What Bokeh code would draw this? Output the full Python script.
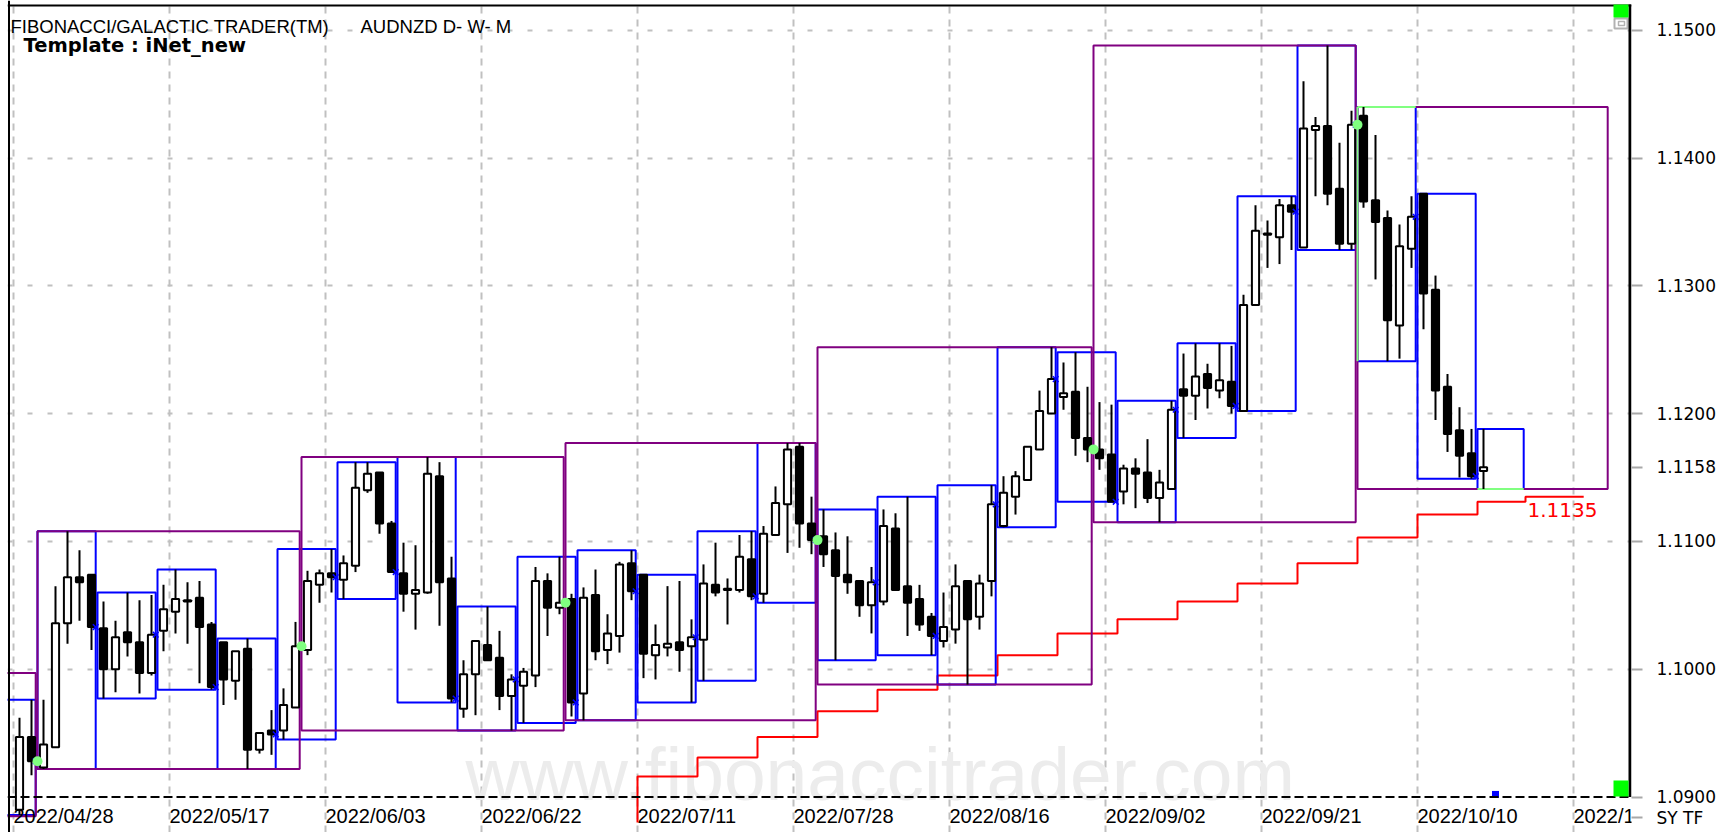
import numpy as np
import pandas as pd
from bokeh.plotting import figure
from bokeh.models import (ColumnDataSource, FixedTicker, Range1d, Label, Span,
                          BoxAnnotation, PrintfTickFormatter)
from bokeh.core.properties import value
from bokeh.embed import file_html
from bokeh.resources import INLINE

# ------------------------------------------------------------------ data
first_date = "2022-04-28"

opens = [1.0890, 1.0947, 1.0923, 1.0939, 1.1036, 1.1072, 1.1074, 1.1032, 1.1000, 1.1029,
         1.1021, 1.0997, 1.1030, 1.1045, 1.1053, 1.1056, 1.1035, 1.1021, 1.0991, 1.1016,
         1.0937, 1.0952, 1.0952, 1.0970, 1.1015, 1.1066, 1.1075, 1.1070, 1.1081, 1.1140,
         1.1154, 1.1114, 1.1075, 1.1059, 1.1060, 1.1151, 1.1071, 1.0969, 1.0996, 1.1019,
         1.1009, 1.0979, 1.0987, 1.0995, 1.1069, 1.1048, 1.1055, 1.0981, 1.1058, 1.1015,
         1.1026, 1.1083, 1.1074, 1.1011, 1.1017, 1.1021, 1.1018, 1.1023, 1.1066, 1.1062,
         1.1062, 1.1086, 1.1059, 1.1105, 1.1129, 1.1174, 1.1114, 1.1104, 1.1093, 1.1074,
         1.1069, 1.1050, 1.1053, 1.1110, 1.1065, 1.1055, 1.1041, 1.1022, 1.1031, 1.1069,
         1.1041, 1.1069, 1.1112, 1.1135, 1.1148, 1.1172, 1.1200, 1.1213, 1.1217, 1.1181,
         1.1172, 1.1168, 1.1139, 1.1157, 1.1154, 1.1134, 1.1141, 1.1219, 1.1214, 1.1231,
         1.1218, 1.1225, 1.1202, 1.1285, 1.1340, 1.1338, 1.1363, 1.1330, 1.1422, 1.1425,
         1.1376, 1.1333, 1.1433, 1.1367, 1.1353, 1.1269, 1.1329, 1.1372, 1.1297, 1.1221,
         1.1187, 1.1169, 1.1155]

highs = [1.0962, 1.0976, 1.0976, 1.1065, 1.1108, 1.1093, 1.1074, 1.1053, 1.1038, 1.1060,
         1.1054, 1.1058, 1.1066, 1.1078, 1.1068, 1.1069, 1.1037, 1.1021, 1.1014, 1.1024,
         1.0950, 1.0968, 1.0985, 1.1037, 1.1077, 1.1078, 1.1094, 1.1089, 1.1162, 1.1162,
         1.1154, 1.1116, 1.1099, 1.1097, 1.1166, 1.1162, 1.1088, 1.1007, 1.1022, 1.1049,
         1.1030, 1.0996, 1.1001, 1.1080, 1.1075, 1.1088, 1.1059, 1.1064, 1.1078, 1.1043,
         1.1084, 1.1093, 1.1074, 1.1035, 1.1065, 1.1069, 1.1039, 1.1082, 1.1099, 1.1071,
         1.1105, 1.1108, 1.1112, 1.1143, 1.1177, 1.1177, 1.1135, 1.1125, 1.1107, 1.1104,
         1.1069, 1.1080, 1.1125, 1.1122, 1.1135, 1.1066, 1.1044, 1.1060, 1.1082, 1.1069,
         1.1074, 1.1144, 1.1151, 1.1155, 1.1174, 1.1218, 1.1252, 1.1240, 1.1248, 1.1221,
         1.1209, 1.1207, 1.1160, 1.1165, 1.1180, 1.1156, 1.1210, 1.1247, 1.1255, 1.1239,
         1.1255, 1.1253, 1.1293, 1.1363, 1.1351, 1.1368, 1.1370, 1.1460, 1.1432, 1.1488,
         1.1412, 1.1437, 1.1440, 1.1418, 1.1359, 1.1348, 1.1370, 1.1372, 1.1308, 1.1231,
         1.1205, 1.1188, 1.1188]

lows = [1.0886, 1.0917, 1.0922, 1.0939, 1.1020, 1.1038, 1.1015, 1.0977, 1.0982, 1.1010,
        1.0981, 1.0995, 1.1014, 1.1028, 1.1020, 1.0989, 1.0984, 1.0972, 1.0976, 1.0922,
        1.0934, 1.0933, 1.0945, 1.0970, 1.1011, 1.1052, 1.1060, 1.1055, 1.1076, 1.1138,
        1.1106, 1.1076, 1.1045, 1.1031, 1.1059, 1.1034, 1.0974, 1.0962, 1.0964, 1.1007,
        1.0968, 1.0952, 1.0958, 1.0986, 1.1026, 1.1043, 1.0963, 1.0960, 1.1007, 1.1004,
        1.1013, 1.1054, 1.0993, 1.0992, 1.1010, 1.0998, 1.0974, 1.0991, 1.1057, 1.1035,
        1.1060, 1.1054, 1.1052, 1.1105, 1.1091, 1.1095, 1.1090, 1.1080, 1.1007, 1.1059,
        1.1041, 1.1028, 1.1050, 1.1062, 1.1026, 1.1030, 1.1011, 1.1017, 1.1020, 1.0988,
        1.1031, 1.1057, 1.1111, 1.1121, 1.1148, 1.1172, 1.1200, 1.1203, 1.1167, 1.1162,
        1.1156, 1.1131, 1.1129, 1.1126, 1.1130, 1.1115, 1.1141, 1.1181, 1.1195, 1.1204,
        1.1212, 1.1200, 1.1202, 1.1285, 1.1314, 1.1317, 1.1328, 1.1330, 1.1370, 1.1363,
        1.1328, 1.1328, 1.1361, 1.1305, 1.1241, 1.1243, 1.1314, 1.1266, 1.1195, 1.1170,
        1.1150, 1.1149, 1.1141]

closes = [1.0947, 1.0928, 1.0941, 1.1036, 1.1072, 1.1068, 1.1033, 1.1000, 1.1025, 1.1021,
          1.0997, 1.1027, 1.1047, 1.1055, 1.1054, 1.1033, 1.0986, 1.0992, 1.1014, 1.0937,
          1.0950, 1.0949, 1.0972, 1.1018, 1.1069, 1.1075, 1.1072, 1.1083, 1.1142, 1.1153,
          1.1114, 1.1076, 1.1059, 1.1062, 1.1153, 1.1068, 1.0977, 1.0996, 1.1022, 1.1007,
          1.0979, 1.0992, 1.0998, 1.1069, 1.1048, 1.1052, 1.0974, 1.1056, 1.1014, 1.1028,
          1.1082, 1.1061, 1.1012, 1.1019, 1.1020, 1.1015, 1.1025, 1.1067, 1.1060, 1.1063,
          1.1088, 1.1057, 1.1106, 1.1130, 1.1172, 1.1114, 1.1101, 1.1090, 1.1073, 1.1068,
          1.1050, 1.1068, 1.1112, 1.1062, 1.1052, 1.1035, 1.1026, 1.1033, 1.1065, 1.1039,
          1.1067, 1.1129, 1.1138, 1.1151, 1.1174, 1.1202, 1.1227, 1.1216, 1.1181, 1.1172,
          1.1165, 1.1131, 1.1157, 1.1153, 1.1134, 1.1146, 1.1203, 1.1214, 1.1229, 1.1220,
          1.1226, 1.1206, 1.1285, 1.1343, 1.1341, 1.1363, 1.1358, 1.1423, 1.1425, 1.1372,
          1.1333, 1.1426, 1.1366, 1.1350, 1.1273, 1.1331, 1.1354, 1.1294, 1.1218, 1.1184,
          1.1167, 1.1151, 1.1158]

# April range made of bars that lie before the visible window
april_high_before_window = 1.0997
april_low_before_window = 1.0885

# projected last bar of the running (current) week
current_week_last_bar = 125

# red weekly step line: bar where each step starts, and its value
red_step_bars = [52, 57, 62, 67, 72, 77, 82, 87, 92, 97, 102, 107, 112, 117, 122, 126]
red_values = [1.0916, 1.0931, 1.0947, 1.0967, 1.0984, 1.0995, 1.1011, 1.1028,
              1.1039, 1.1053, 1.1067, 1.1083, 1.1103, 1.1121, 1.1131, 1.1135]
red_value_before = 1.0880
red_last_bar = 130

x_tick_bars = [0, 13, 26, 39, 52, 65, 78, 91, 104, 117, 130]
x_tick_labels = ["2022/04/28", "2022/05/17", "2022/06/03", "2022/06/22", "2022/07/11",
                 "2022/07/28", "2022/08/16", "2022/09/02", "2022/09/21", "2022/10/10",
                 "2022/10/27"]
y_ticks = [1.09, 1.10, 1.11, 1.12, 1.13, 1.14, 1.15]
button_labels = "SY TF"

# ------------------------------------------------------------------ layout (page px)
W, H = 1724, 832
FRAME_L, FRAME_R = 7, 1631
PX_PER_BAR = 12.0
PX_PER_UNIT = 12780.0
x_start = -12.0 / PX_PER_BAR              # bar 0 sits 12 px right of the frame edge
x_end = x_start + (FRAME_R - FRAME_L) / PX_PER_BAR
y_end = 1.09 + 796.5 / PX_PER_UNIT        # 1.0900 line at page y 796.5
y_start = y_end - H / PX_PER_UNIT


def sx(page_x):
    return x_start + (page_x - FRAME_L) / PX_PER_BAR


def sy(page_y):
    return y_end - page_y / PX_PER_UNIT


# ------------------------------------------------------------------ derived tables
n = len(opens)
dates = pd.bdate_range(first_date, periods=n)
df = pd.DataFrame(dict(i=np.arange(n), o=opens, h=highs, l=lows, c=closes), index=dates)
df["wk"] = dates - pd.to_timedelta(dates.weekday, unit="D")
df["mo"] = dates.to_period("M")

wk = df.groupby("wk").agg(first=("i", "min"), last=("i", "max"),
                          top=("h", "max"), bottom=("l", "min"), close=("c", "last"))
wk["left"] = [int(f) - dates[int(f)].weekday() - 0.5 for f in wk["first"]]
wk["right"] = [int(la) + (4 - dates[int(la)].weekday()) + 0.35 for la in wk["last"]]
wk.loc[wk.index[-1], "right"] = current_week_last_bar + 0.35

mo = df.groupby("mo").agg(first=("i", "min"), last=("i", "max"),
                          top=("h", "max"), bottom=("l", "min"))
lefts, rights = [], []
for per, f, la in zip(mo.index, mo["first"], mo["last"]):
    f, la = int(f), int(la)
    ms = np.datetime64(per.start_time.date())
    me1 = np.datetime64(per.end_time.date()) + np.timedelta64(1, "D")
    fd = np.datetime64(dates[f].date())
    ld1 = np.datetime64(dates[la].date()) + np.timedelta64(1, "D")
    lefts.append(f - int(np.busday_count(ms, fd)) - 0.5)
    rights.append(la + int(np.busday_count(ld1, me1)) + 0.35)
mo["left"] = lefts
mo["right"] = rights
mo.loc[mo.index[0], "top"] = max(mo["top"].iloc[0], april_high_before_window)
mo.loc[mo.index[0], "bottom"] = min(mo["bottom"].iloc[0], april_low_before_window)

# ------------------------------------------------------------------ figure
p = figure(width=W, height=H, output_backend="svg", toolbar_location=None,
           x_range=Range1d(x_start, x_end), y_range=Range1d(y_start, y_end),
           x_axis_location=None, y_axis_location="right",
           min_border_left=FRAME_L, min_border_right=W - FRAME_R,
           min_border_top=0, min_border_bottom=0)
p.background_fill_color = "white"
p.border_fill_color = "white"
p.outline_line_color = None

# right price axis (plus the last-price label and the SY/TF buttons row)
last_price = closes[-1]
button_level = sy(817)
ya = p.yaxis[0]
ya.ticker = FixedTicker(ticks=y_ticks + [last_price, button_level])
ya.formatter = PrintfTickFormatter(format="%.4f")
ya.major_label_overrides = {last_price: f"{last_price:.4f}", button_level: button_labels}
ya.axis_line_color = None
ya.major_tick_line_color = "#A8A8A8"
ya.major_tick_line_width = 2
ya.major_tick_out = 11
ya.major_tick_in = 0
ya.minor_tick_line_color = None
ya.major_label_standoff = 14
ya.major_label_text_font = "DejaVu Sans"
ya.major_label_text_font_size = "17px"
ya.major_label_text_color = "black"

grid_x = [b - 0.5 for b in x_tick_bars]
p.xgrid.ticker = FixedTicker(ticks=grid_x)
p.xgrid.grid_line_color = "#C0C0C0"
p.xgrid.grid_line_width = 2
p.xgrid.grid_line_dash = "7 6"
p.ygrid.ticker = FixedTicker(ticks=y_ticks[1:])
p.ygrid.grid_line_color = "#C0C0C0"
p.ygrid.grid_line_width = 2
p.ygrid.grid_line_dash = "5 15"

# watermark
p.add_layout(Label(x=sx(465), y=sy(773), text="www.fibonaccitrader.com",
                   text_font="Liberation Sans", text_font_size="75px",
                   text_color="#ECECEC", text_baseline="alphabetic", level="underlay"))

# red weekly step line
red_x = [red_step_bars[0] - 0.5] + [b - 0.5 for b in red_step_bars] + [red_last_bar + 0.35]
red_y = [red_value_before] + red_values + [red_values[-1]]
p.step(red_x, red_y, mode="after", line_color="#FF0000", line_width=2)

# weekly boxes
p.quad(left="left", right="right", top="top", bottom="bottom",
       source=ColumnDataSource(wk.reset_index(drop=True)),
       fill_color=None, line_color="#0000FF", line_width=2)
# monthly boxes
p.quad(left="left", right="right", top="top", bottom="bottom",
       source=ColumnDataSource(mo.reset_index(drop=True)),
       fill_color=None, line_color="#800080", line_width=2)

# current month: weekly edges touching the monthly range drawn in light green
cur = mo.iloc[-1]
cur_weeks = wk[wk["first"] >= cur["first"]]
gx0, gy0, gx1, gy1 = [], [], [], []
for _, w in cur_weeks.iterrows():
    if w["top"] == cur["top"]:
        gx0.append(w["left"]); gy0.append(w["top"]); gx1.append(w["right"]); gy1.append(w["top"])
    if w["bottom"] == cur["bottom"]:
        gx0.append(w["left"]); gy0.append(w["bottom"]); gx1.append(w["right"]); gy1.append(w["bottom"])
    if w["left"] == cur["left"]:
        gx0.append(w["left"]); gy0.append(w["bottom"]); gx1.append(w["left"]); gy1.append(w["top"])
p.segment(gx0, gy0, gx1, gy1, line_color="#80FF80", line_width=2)

# candles
cs = ColumnDataSource(dict(
    x=df["i"].to_numpy(), h=df["h"].to_numpy(), l=df["l"].to_numpy(),
    top=np.maximum(df["o"], df["c"]).to_numpy(), bottom=np.minimum(df["o"], df["c"]).to_numpy(),
    fill=np.where(df["c"] >= df["o"], "white", "black")))
p.segment(x0="x", y0="h", x1="x", y1="l", source=cs, line_color="black", line_width=2)
p.vbar(x="x", width=0.6, top="top", bottom="bottom", source=cs,
       fill_color="fill", line_color="black", line_width=2)

# end-of-week markers (last close of each finished week)
done = wk.iloc[:-1]
p.scatter((done["last"] + 0.35).to_numpy(), done["close"].to_numpy(), marker="x", size=8,
          line_color="#0000FF", line_width=1.5)

# start-of-month dots (previous month's last close)
m_first = [int(f) for f in mo["first"] if f > 0]
p.scatter([f - 0.5 for f in m_first], [closes[f - 1] for f in m_first],
          marker="circle", size=10, fill_color="#80FF80", line_color=None)

# next bar marker
p.scatter([n], [1.0902], marker="square", size=7, fill_color="#0000FF", line_color=None)

# frame borders
p.add_layout(Span(location=sx(8.5), dimension="height", line_color="black", line_width=2))
p.add_layout(Span(location=sy(5), dimension="width", line_color="black", line_width=2))
p.add_layout(Span(location=1.09, dimension="width", line_color="black",
                  line_width=2, line_dash="9 4"))
p.segment([sx(1629.5)], [1.09], [sx(1629.5)], [sy(4)], line_color="black", line_width=3)

# corner widgets
p.add_layout(BoxAnnotation(left=sx(1613), right=sx(1628), top=sy(4), bottom=sy(17),
                           fill_color="#00FF00", fill_alpha=1, line_color=None))
p.add_layout(BoxAnnotation(left=sx(1614), right=sx(1627), top=sy(18), bottom=sy(28),
                           fill_color="white", fill_alpha=1, line_color="black", line_width=2))
p.add_layout(BoxAnnotation(left=sx(1618), right=sx(1624), top=sy(21), bottom=sy(25),
                           fill_color=None, line_color="black", line_width=1.5))
p.add_layout(BoxAnnotation(left=sx(1613), right=sx(1628), top=sy(780), bottom=sy(796),
                           fill_color="#00FF00", fill_alpha=1, line_color=None))

# date labels along the bottom
p.text([b - 0.5 for b in x_tick_bars], [sy(804)] * len(x_tick_bars), text=x_tick_labels,
       text_font=value("Liberation Sans"), text_font_size="20px", text_color="black",
       text_align="left", text_baseline="top")

# titles
p.add_layout(Label(x=sx(10), y=sy(26), text="FIBONACCI/GALACTIC TRADER(TM)",
                   text_font="Liberation Sans", text_font_size="18.5px", text_color="black",
                   text_baseline="alphabetic"))
p.add_layout(Label(x=sx(360), y=sy(26), text="AUDNZD D- W- M",
                   text_font="Liberation Sans", text_font_size="18.5px", text_color="black",
                   text_baseline="alphabetic"))
p.add_layout(Label(x=sx(23), y=sy(45), text="Template : iNet_new",
                   text_font="DejaVu Sans", text_font_size="19.5px", text_font_style="bold",
                   text_color="black", text_baseline="alphabetic"))

# red level label
p.add_layout(Label(x=sx(1527), y=red_values[-1] - 6 / PX_PER_UNIT, text=f"{red_values[-1]:.4f}",
                   text_font="DejaVu Sans", text_font_size="20px", text_color="#FF0000",
                   text_baseline="top"))

open("out.html", "w").write(file_html(p, INLINE))
